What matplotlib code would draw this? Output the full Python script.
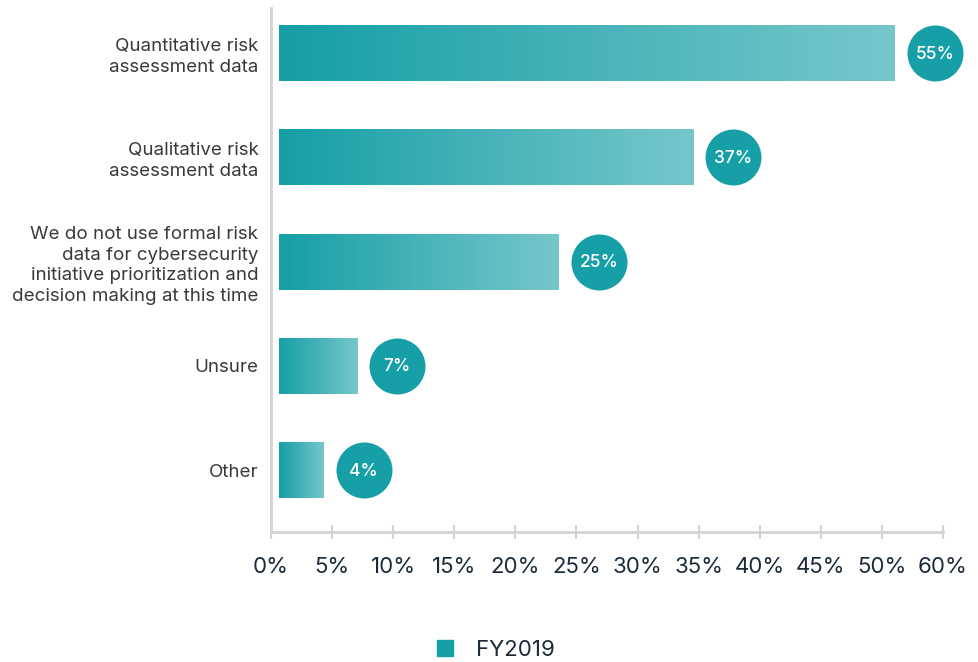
import numpy as np
import matplotlib
matplotlib.use("Agg")
import matplotlib.pyplot as plt
from matplotlib.colors import LinearSegmentedColormap
from matplotlib.transforms import offset_copy
from matplotlib.lines import Line2D

# ---- data -------------------------------------------------------------
categories = [
    "Quantitative risk\nassessment data",
    "Qualitative risk\nassessment data",
    "We do not use formal risk\ndata for cybersecurity\ninitiative prioritization and\ndecision making at this time",
    "Unsure",
    "Other",
]
values = [55, 37, 25, 7, 4]
value_labels = ["55%", "37%", "25%", "7%", "4%"]
tick_labels = ["0%", "5%", "10%", "15%", "20%", "25%", "30%", "35%",
               "40%", "45%", "50%", "60%"]
x_max = 60
series_name = "FY2019"

# ---- style ------------------------------------------------------------
plt.rcParams["font.family"] = ["Inter", "DejaVu Sans"]
TEAL = "#169fa6"
TEAL_LIGHT = "#76c7cb"
TEXT = "#3a3a3a"
NAVY = "#1b2a3b"
GRID = "#d3d3d3"
grad = LinearSegmentedColormap.from_list("teal_grad", [TEAL, TEAL_LIGHT])

fig = plt.figure(figsize=(9.79, 6.62), dpi=100)
ax = fig.add_axes([271 / 979, 1 - 532 / 662, (943 - 271) / 979, (532 - 8) / 662])

n = len(values)
ypos = np.arange(n)
bar_h = 0.537
bar_left = 0.7
y_top, y_bottom = -0.431, n - 1 + 0.594

gradient = np.linspace(0, 1, 256).reshape(1, -1)
circle_tr = offset_copy(ax.transData, fig=fig, x=40 * 0.72, y=0, units="points")
text_tr = offset_copy(ax.transData, fig=fig, x=40 * 0.72, y=-0.8, units="points")
for y, v, lab in zip(ypos, values, value_labels):
    x0, x1 = bar_left, bar_left + v
    ax.imshow(gradient, cmap=grad, aspect="auto", interpolation="bilinear",
              extent=(x0, x1, y + bar_h / 2, y - bar_h / 2), zorder=2)
    ax.scatter([x1], [y], s=(56 * 0.72) ** 2, color=TEAL, transform=circle_tr,
               zorder=3, clip_on=False, linewidths=0)
    ax.text(x1, y, lab, transform=text_tr, ha="center", va="center",
            color="white", fontsize=12.5, fontweight="medium", zorder=4,
            clip_on=False)

ax.set_xlim(0, x_max)
ax.set_ylim(y_bottom, y_top)

ax.set_yticks(ypos)
ax.set_yticklabels(categories, fontsize=13.5, color=TEXT, linespacing=1.3)
ax.tick_params(axis="y", length=0, pad=9)

ax.set_xticks(np.linspace(0, x_max, len(tick_labels)))
ax.set_xticklabels(tick_labels, fontsize=16, color=NAVY)
ax.tick_params(axis="x", length=10, width=1.5, color=GRID, direction="inout",
               pad=13)

for s in ["top", "right"]:
    ax.spines[s].set_visible(False)
for s in ["left", "bottom"]:
    ax.spines[s].set_color(GRID)
    ax.spines[s].set_linewidth(2)

handle = Line2D([], [], marker="s", linestyle="none", markersize=12,
                markerfacecolor=TEAL, markeredgecolor=TEAL)
fig.legend([handle], [series_name], loc="center", frameon=False,
           bbox_to_anchor=(489 / 979, 1 - 650 / 662), fontsize=16,
           labelcolor=NAVY, handletextpad=0.4)

fig.savefig("out.png", dpi=100)
